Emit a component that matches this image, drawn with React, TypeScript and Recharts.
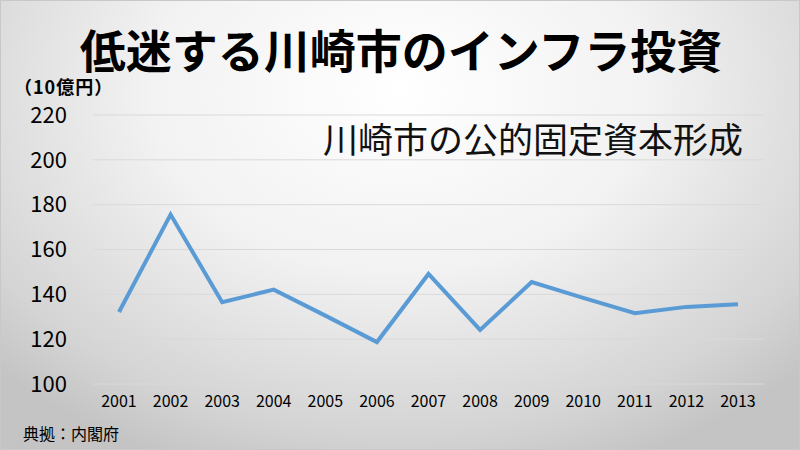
import React from "react";
import { LineChart, Line, XAxis, YAxis, CartesianGrid } from "recharts";

const years = ["2001","2002","2003","2004","2005","2006","2007","2008","2009","2010","2011","2012","2013"];
const investment = [132.1, 175.6, 136.5, 142.1, 130.5, 118.7, 149.1, 124.1, 145.5, 138.4, 131.6, 134.4, 135.6];
const yTicks = [100, 120, 140, 160, 180, 200, 220];

const data = years.map((y, i) => ({ year: y, value: investment[i] }));

const FONT = "'Noto Sans CJK JP', 'Noto Sans', sans-serif";

export default function App() {
  return (
    <div
      style={{
        position: "absolute",
        left: 0,
        top: 0,
        width: 800,
        height: 450,
        overflow: "hidden",
        boxSizing: "border-box",
        border: "1px solid #c8c8c8",
        background: "radial-gradient(ellipse 70% 90% at 50% 20%, #ffffff 0%, #f2f2f2 45%, #d4d4d4 85%, #c4c4c4 100%)",
        fontFamily: FONT,
      }}
    >
      <div style={{ position: "absolute", left: 0, width: 800, top: 22, textAlign: "center", fontSize: 46, fontWeight: 700, color: "#000", lineHeight: "50px" }}>
        低迷する川崎市のインフラ投資
      </div>
      <div style={{ position: "absolute", left: 13, top: 74, fontSize: 18, fontWeight: 700, color: "#000", lineHeight: "22px", letterSpacing: 1 }}>
        （10億円）
      </div>
      <div style={{ position: "absolute", left: 322, top: 113, fontSize: 35, fontWeight: 400, color: "#111", lineHeight: "48px" }}>
        川崎市の公的固定資本形成
      </div>
      <div style={{ position: "absolute", left: 22, top: 421, fontSize: 16, color: "#000", lineHeight: "22px" }}>
        典拠：内閣府
      </div>
      <div style={{ position: "absolute", left: 0, top: 0 }}>
        <LineChart width={800} height={450} data={data} margin={{ top: 114, right: 37, bottom: 0, left: 0 }}>
          <CartesianGrid vertical={false} stroke="#d9d9d9" strokeWidth={1} />
          <XAxis
            dataKey="year"
            axisLine={false}
            tickLine={false}
            tickSize={0}
            tickMargin={12}
            height={67}
            padding={{ left: 26, right: 26 }}
            tick={{ fontSize: 16, fill: "#000", fontFamily: FONT }}
            interval={0}
          />
          <YAxis
            domain={[100, 220]}
            ticks={yTicks}
            axisLine={false}
            tickLine={false}
            tickSize={0}
            tickMargin={26}
            width={92}
            tick={{ fontSize: 22, fill: "#000", fontFamily: FONT }}
          />
          <Line type="linear" dataKey="value" stroke="#5B9BD5" strokeWidth={4} dot={false} isAnimationActive={false} />
        </LineChart>
      </div>
    </div>
  );
}
